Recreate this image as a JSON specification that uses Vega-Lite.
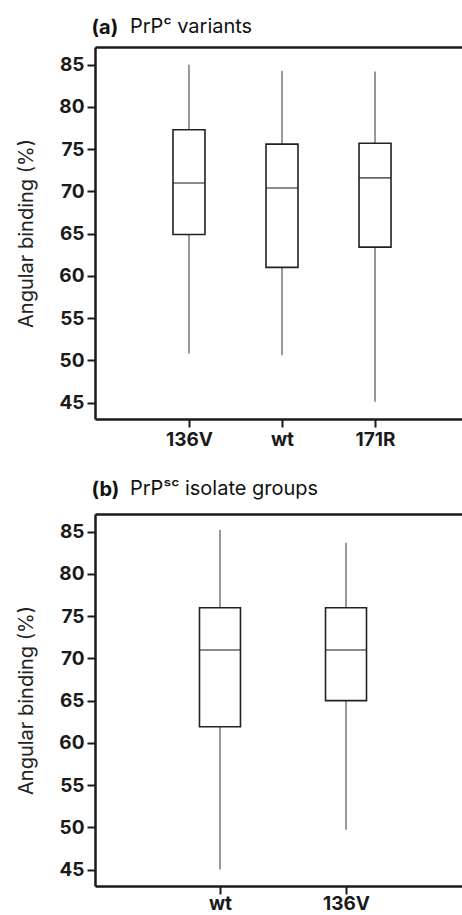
{
  "$schema": "https://vega.github.io/schema/vega-lite/v6.json",
  "padding": {"left": 16, "top": 17, "right": 0, "bottom": 0},
  "background": "white",
  "spacing": 30,
  "config": {
    "view": {"stroke": null},
    "font": "Inter",
    "axis": {
      "grid": false,
      "domainColor": "#1a1a1a",
      "domainWidth": 2.5,
      "tickColor": "#1a1a1a",
      "tickWidth": 2,
      "tickSize": 8,
      "labelFont": "Inter",
      "labelFontWeight": "bold",
      "labelFontSize": 19,
      "labelColor": "#1a1a1a",
      "titleFont": "Inter",
      "titleFontWeight": "normal",
      "titleFontSize": 20,
      "titleColor": "#222222"
    },
    "title": {
      "font": "Inter",
      "fontSize": 20,
      "fontWeight": "normal",
      "color": "#111111",
      "baseline": "alphabetic",
      "anchor": "start",
      "frame": "group",
      "offset": -20,
      "dx": 35
    }
  },
  "vconcat": [
    {
      "title": {"text": "PrPᶜ variants"},
      "width": 368,
      "height": 372,
      "data": {"values": [
        {"group": "136V", "lower": 50.8, "q1": 64.9, "median": 71.0, "q3": 77.3, "upper": 85.0},
        {"group": "wt", "lower": 50.6, "q1": 61.0, "median": 70.4, "q3": 75.6, "upper": 84.3},
        {"group": "171R", "lower": 45.1, "q1": 63.4, "median": 71.6, "q3": 75.7, "upper": 84.2}
      ]},
      "resolve": {"axis": {"x": "independent"}},
      "layer": [
        {"mark": {"type": "rule", "color": "#555555", "strokeWidth": 1.2},
         "encoding": {
           "x": {"field": "group", "type": "nominal", "sort": null,
                 "scale": {"type": "point", "padding": 0.978, "align": 0.5165},
                 "axis": {"title": null, "labelAngle": 0, "labelPadding": 3}},
           "y": {"field": "lower", "type": "quantitative",
                 "scale": {"domain": [43.05, 87.1], "nice": false, "zero": false},
                 "axis": {"title": "Angular binding (%)", "values": [45, 50, 55, 60, 65, 70, 75, 80, 85], "labelPadding": 3, "titlePadding": 22}},
           "y2": {"field": "upper"}}},
        {"mark": {"type": "bar", "size": 32, "fill": "white", "stroke": "#222222", "strokeWidth": 1.6},
         "encoding": {
           "x": {"field": "group", "type": "nominal", "sort": null, "axis": null},
           "y": {"field": "q1", "type": "quantitative"}, "y2": {"field": "q3"}}},
        {"mark": {"type": "tick", "size": 32, "thickness": 1.6, "color": "#222222"},
         "encoding": {
           "x": {"field": "group", "type": "nominal", "sort": null,
                 "axis": {"orient": "top", "labels": false, "ticks": false, "title": "(a)", "titleFontWeight": "bold", "titleColor": "#111111", "titleAnchor": "start", "titleAlign": "left", "titleBaseline": "alphabetic", "titleX": -4, "titleY": -14}},
           "y": {"field": "median", "type": "quantitative"}}}
      ]
    },
    {
      "title": {"text": "PrPˢᶜ isolate groups"},
      "width": 368,
      "height": 372,
      "data": {"values": [
        {"group": "wt", "lower": 45.0, "q1": 61.9, "median": 71.0, "q3": 76.0, "upper": 85.2},
        {"group": "136V", "lower": 49.7, "q1": 65.0, "median": 71.0, "q3": 76.0, "upper": 83.7}
      ]},
      "resolve": {"axis": {"x": "independent"}},
      "layer": [
        {"mark": {"type": "rule", "color": "#555555", "strokeWidth": 1.2},
         "encoding": {
           "x": {"field": "group", "type": "nominal", "sort": null,
                 "scale": {"type": "point", "padding": 0.96, "align": 0.5165},
                 "axis": {"title": null, "labelAngle": 0, "labelPadding": 0}},
           "y": {"field": "lower", "type": "quantitative",
                 "scale": {"domain": [43.05, 87.1], "nice": false, "zero": false},
                 "axis": {"title": "Angular binding (%)", "values": [45, 50, 55, 60, 65, 70, 75, 80, 85], "labelPadding": 3, "titlePadding": 22}},
           "y2": {"field": "upper"}}},
        {"mark": {"type": "bar", "size": 41, "fill": "white", "stroke": "#222222", "strokeWidth": 1.6},
         "encoding": {
           "x": {"field": "group", "type": "nominal", "sort": null, "axis": null},
           "y": {"field": "q1", "type": "quantitative"}, "y2": {"field": "q3"}}},
        {"mark": {"type": "tick", "size": 41, "thickness": 1.6, "color": "#222222"},
         "encoding": {
           "x": {"field": "group", "type": "nominal", "sort": null,
                 "axis": {"orient": "top", "labels": false, "ticks": false, "title": "(b)", "titleFontWeight": "bold", "titleColor": "#111111", "titleAnchor": "start", "titleAlign": "left", "titleBaseline": "alphabetic", "titleX": -4, "titleY": -19}},
           "y": {"field": "median", "type": "quantitative"}}}
      ]
    }
  ]
}
